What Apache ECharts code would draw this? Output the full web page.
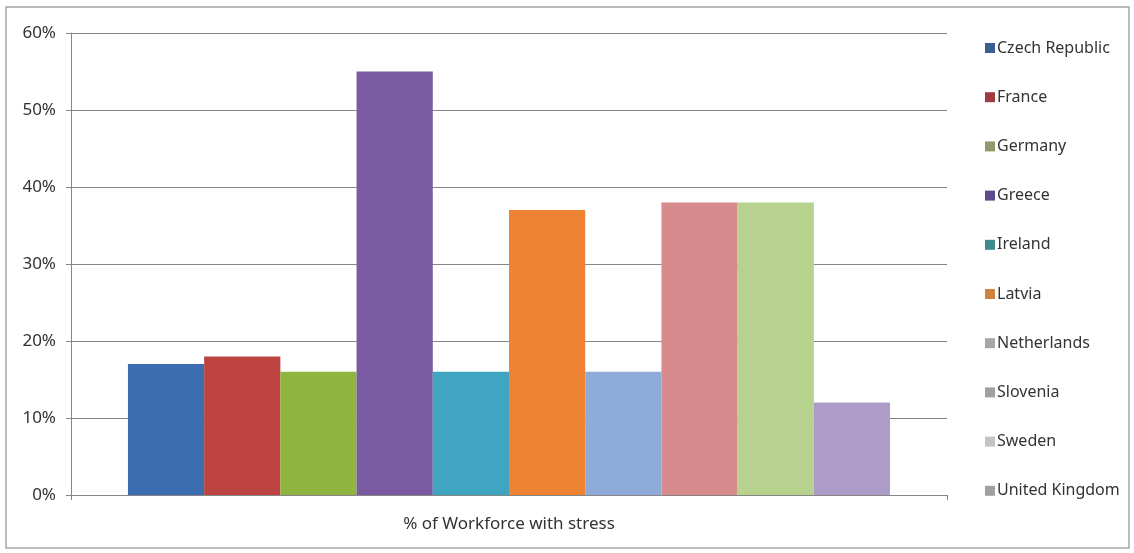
<!DOCTYPE html>
<html>
<head>
<meta charset="utf-8">
<script src="https://cdn.jsdelivr.net/npm/echarts@6/dist/echarts.min.js"></script>
<style>
html,body{margin:0;padding:0;background:#fff;}
#chart{width:1134px;height:553px;}
</style>
</head>
<body>
<div id="chart"></div>
<script>
const categories = ["% of Workforce with stress"];
const countries = ["Czech Republic","France","Germany","Greece","Ireland","Latvia","Netherlands","Slovenia","Sweden","United Kingdom"];
const values = [0.17, 0.18, 0.16, 0.55, 0.16, 0.37, 0.16, 0.38, 0.38, 0.12];
const barColors = ["#3d6db1","#bc4340","#8fb43f","#7a5aa0","#3fa5c0","#ee8433","#8eabda","#d88b8d","#b7d28f","#ad9cc8"];
const legendColors = ["#3d5f8f","#a03c40","#8f9b6c","#5b4b8a","#3b8a8c","#d4823f","#a6a6a6","#a0a0a0","#c4c4c4","#a0a0a0"];
const yTicks = [0, 0.1, 0.2, 0.3, 0.4, 0.5, 0.6];

const chart = echarts.init(document.getElementById('chart'), null, {renderer:'canvas'});
const font = "'Noto Sans', sans-serif";

const series = countries.map((c, i) => ({
  name: c,
  type: 'bar',
  data: [values[i]],
  barGap: '0%',
  barCategoryGap: '13%',
  itemStyle: { color: barColors[i] },
  emphasis: { disabled: true }
}));

chart.setOption({
  animation: false,
  backgroundColor: '#fff',
  graphic: [{
    type: 'rect',
    shape: { x: 6, y: 7, width: 1123, height: 541 },
    style: { fill: 'none', stroke: '#a6a6a6', lineWidth: 1.5 },
    silent: true
  }],
  grid: { left: 71, right: 187, top: 33, bottom: 58, containLabel: false },
  legend: {
    orient: 'vertical',
    left: 980,
    top: 33,
    icon: 'rect',
    itemWidth: 10,
    itemHeight: 10,
    itemGap: 29.2,
    textStyle: { fontFamily: font, fontSize: 16, color: '#333', lineHeight: 20, padding: [0,0,0,-3] },
    data: countries.map((c, i) => ({ name: c, itemStyle: { color: legendColors[i] } }))
  },
  xAxis: {
    type: 'category',
    data: categories,
    axisLine: { lineStyle: { color: '#868686', width: 1 } },
    axisTick: { show: true, length: 5, lineStyle: { color: '#868686' } },
    axisLabel: { fontFamily: font, fontSize: 17, color: '#333', margin: 21 }
  },
  yAxis: {
    type: 'value',
    min: 0,
    max: 0.6,
    interval: 0.1,
    axisLine: { show: true, lineStyle: { color: '#868686' } },
    axisTick: { show: true, length: 5, lineStyle: { color: '#868686' } },
    splitLine: { lineStyle: { color: '#868686', width: 1 } },
    axisLabel: {
      fontFamily: font, fontSize: 17, color: '#333', margin: 15,
      formatter: v => Math.round(v * 100) + '%'
    }
  },
  series: series
});
</script>
</body>
</html>
